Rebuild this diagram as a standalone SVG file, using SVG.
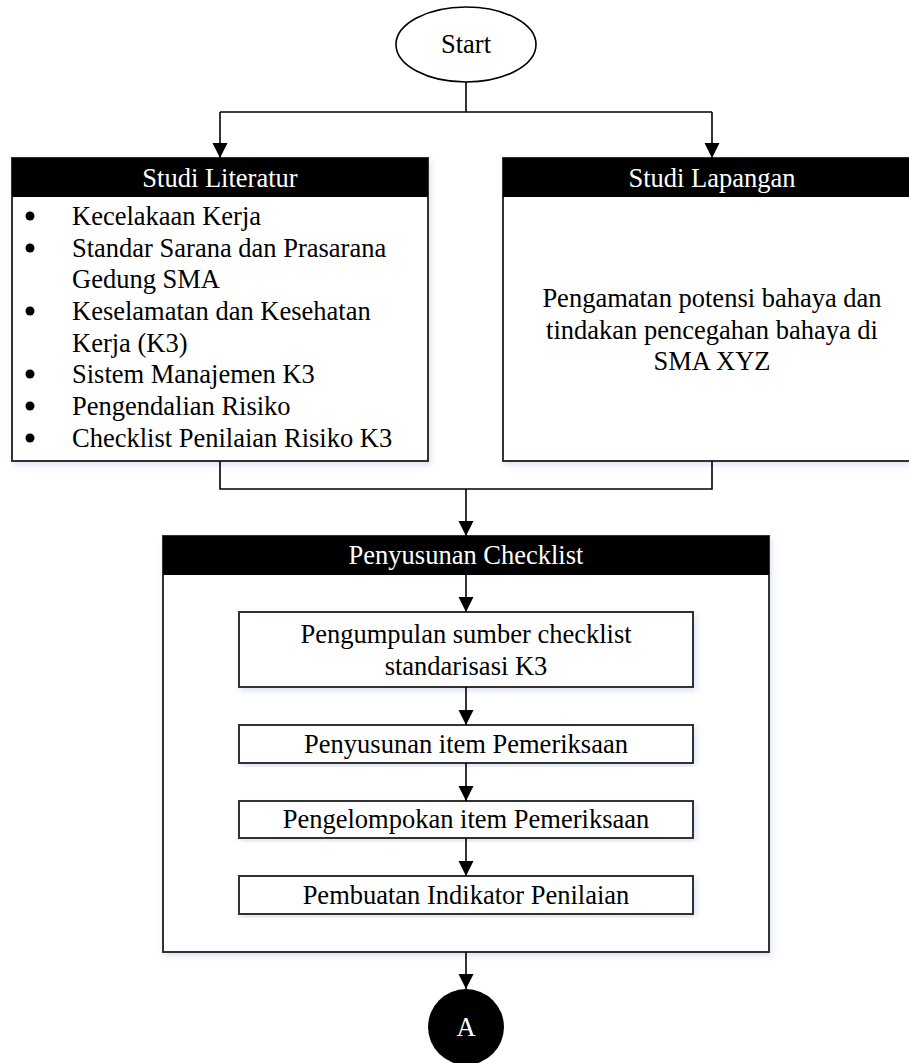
<svg xmlns="http://www.w3.org/2000/svg" width="909" height="1063" viewBox="0 0 909 1063" font-family="Liberation Serif, serif" font-size="26">
<defs>
<marker id="arr" markerUnits="userSpaceOnUse" markerWidth="16" markerHeight="16" refX="15" refY="7.5" orient="auto">
<path d="M0,0 L15,7.5 L0,15 z" fill="#000"/>
</marker>
<filter id="sh" x="-5%" y="-5%" width="110%" height="115%">
<feDropShadow dx="2" dy="3" stdDeviation="3" flood-color="#b8c8e0" flood-opacity="0.5"/>
</filter>
</defs>
<style>
text{font-family:'Liberation Serif',serif;font-size:26.5px;fill:#000}
.c{text-anchor:middle}
.w{fill:#fff}
.box{fill:#fff;stroke:#333;stroke-width:2}
.hdr{fill:#000;stroke:none}
.con{fill:none;stroke:#000;stroke-width:1.6}
</style>

<g id="start">
<ellipse cx="466" cy="44.5" rx="70" ry="37.5" fill="#fff" stroke="#000" stroke-width="1.6"/>
<text class="c" x="466" y="53">Start</text>
</g>

<g id="studi-literatur">
<rect class="box" x="12" y="158" width="416" height="303" filter="url(#sh)"/>
<rect class="hdr" x="12" y="158" width="416" height="39"/>
<text class="c w" x="220" y="187">Studi Literatur</text>
<g>
<circle cx="30" cy="216" r="4.5" fill="#000"/>
<text x="72" y="225">Kecelakaan Kerja</text>
<circle cx="30" cy="248" r="4.5" fill="#000"/>
<text x="72" y="257">Standar Sarana dan Prasarana</text>
<text x="72" y="288">Gedung SMA</text>
<circle cx="30" cy="311" r="4.5" fill="#000"/>
<text x="72" y="320">Keselamatan dan Kesehatan</text>
<text x="72" y="352">Kerja (K3)</text>
<circle cx="30" cy="374" r="4.5" fill="#000"/>
<text x="72" y="383">Sistem Manajemen K3</text>
<circle cx="30" cy="406" r="4.5" fill="#000"/>
<text x="72" y="415">Pengendalian Risiko</text>
<circle cx="30" cy="438" r="4.5" fill="#000"/>
<text x="72" y="447">Checklist Penilaian Risiko K3</text>
</g>
</g>

<g id="studi-lapangan">
<rect class="box" x="503" y="158" width="418" height="303" filter="url(#sh)"/>
<rect class="hdr" x="503" y="158" width="418" height="39"/>
<text class="c w" x="712" y="187">Studi Lapangan</text>
<text class="c" x="712" y="307">Pengamatan potensi bahaya dan</text>
<text class="c" x="712" y="339">tindakan pencegahan bahaya di</text>
<text class="c" x="712" y="370">SMA XYZ</text>
</g>

<g id="penyusunan-checklist">
<rect class="box" x="163" y="536" width="606" height="416" filter="url(#sh)"/>
<rect class="hdr" x="163" y="536" width="606" height="39"/>
<text class="c w" x="466" y="564">Penyusunan Checklist</text>
</g>

<g id="pengumpulan">
<rect class="box" x="239" y="612" width="454" height="75" filter="url(#sh)"/>
<text class="c" x="466" y="643">Pengumpulan sumber checklist</text>
<text class="c" x="466" y="675">standarisasi K3</text>
</g>

<g id="penyusunan-item">
<rect class="box" x="239" y="725" width="454" height="38" filter="url(#sh)"/>
<text class="c" x="466" y="753">Penyusunan item Pemeriksaan</text>
</g>

<g id="pengelompokan-item">
<rect class="box" x="239" y="801" width="454" height="37" filter="url(#sh)"/>
<text class="c" x="466" y="828">Pengelompokan item Pemeriksaan</text>
</g>

<g id="pembuatan-indikator">
<rect class="box" x="239" y="876" width="454" height="38" filter="url(#sh)"/>
<text class="c" x="466" y="904">Pembuatan Indikator Penilaian</text>
</g>

<g id="connector-a">
<circle cx="466" cy="1027" r="38" fill="#000"/>
<text class="c w" x="466" y="1036">A</text>
</g>

<g id="connectors">
<path class="con" d="M466,82 V112"/>
<path class="con" d="M220,112 H712"/>
<path class="con" d="M220,112 V158" marker-end="url(#arr)"/>
<path class="con" d="M712,112 V158" marker-end="url(#arr)"/>
<path class="con" d="M220,461 V489 H712 V461"/>
<path class="con" d="M466,489 V536" marker-end="url(#arr)"/>
<path class="con" d="M466,575 V612" marker-end="url(#arr)"/>
<path class="con" d="M466,687 V725" marker-end="url(#arr)"/>
<path class="con" d="M466,763 V801" marker-end="url(#arr)"/>
<path class="con" d="M466,838 V876" marker-end="url(#arr)"/>
<path class="con" d="M466,952 V989" marker-end="url(#arr)"/>
</g>
</svg>
